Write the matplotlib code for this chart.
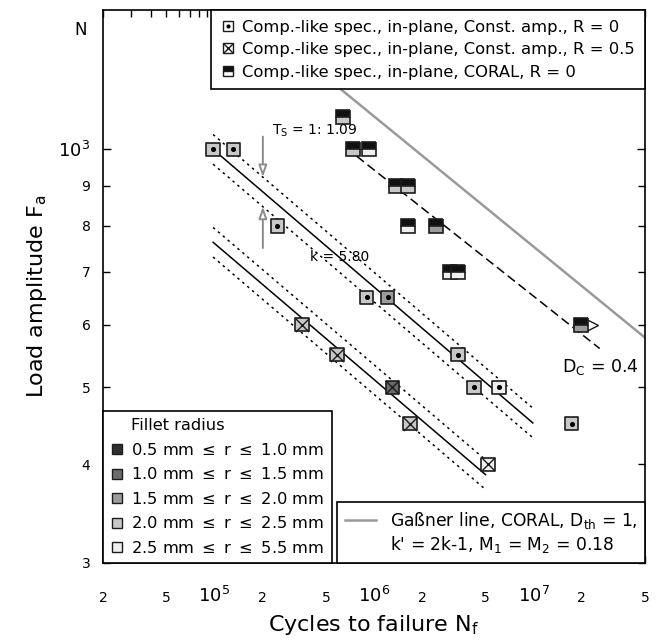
import matplotlib.pyplot as plt
import numpy as np
from matplotlib.lines import Line2D
from matplotlib.ticker import LogLocator, NullFormatter, FuncFormatter

plt.rcParams['font.family'] = 'DejaVu Sans'
plt.rcParams['mathtext.fontset'] = 'dejavusans'

# fillet radius classes -> fill colour
radius_labels = [r'0.5 mm $\leq$ r $\leq$ 1.0 mm',
                 r'1.0 mm $\leq$ r $\leq$ 1.5 mm',
                 r'1.5 mm $\leq$ r $\leq$ 2.0 mm',
                 r'2.0 mm $\leq$ r $\leq$ 2.5 mm',
                 r'2.5 mm $\leq$ r $\leq$ 5.5 mm']
radius_colors = ['#2e2e2e', '#6b6b6b', '#9c9c9c', '#c8c8c8', '#efefef']

# const. amp., R = 0  (square with dot)
n_r0 = [9.8e4, 1.31e5, 2.47e5, 9.0e5, 1.22e6, 3.36e6, 4.24e6, 6.08e6, 1.74e7]
f_r0 = [1000, 1000, 800, 650, 650, 550, 500, 500, 450]
cls_r0 = [3, 3, 3, 3, 2, 3, 3, 4, 3]

# const. amp., R = 0.5  (square with cross)
n_r05 = [3.54e5, 5.86e5, 1.30e6, 1.68e6, 5.19e6]
f_r05 = [600, 550, 500, 450, 400]
cls_r05 = [3, 3, 1, 3, 4]

# CORAL, R = 0  (half filled square)
n_coral = [6.4e5, 7.4e5, 9.3e5, 1.37e6, 1.63e6, 1.63e6, 2.45e6, 3.0e6, 3.36e6, 1.99e7]
f_coral = [1100, 1000, 1000, 900, 900, 800, 800, 700, 700, 600]
cls_coral = [3, 3, 4, 3, 3, 4, 2, 4, 4, 2]
runout_coral = [False, False, False, False, False, False, False, False, False, True]

# fitted S-N lines, k = 5.80, scatter T_S = 1:1.09
k_fit = 5.80
t_s = 1.09
n_fit_r0 = [9.8e4, 9.9e6]
f_fit_r0 = [1000, 451]
n_fit_r05 = [9.8e4, 5.0e6]
f_fit_r05 = [763, 388]

# damage sum D_C = 0.4 line and Gassner line
n_dc = [7.8e5, 2.6e7]
f_dc = [980, 560]
n_gassner = [4.0e5, 5.0e7]
f_gassner = [1280, 578]

fig = plt.figure(figsize=(6.59, 6.44), dpi=100)
ax = fig.add_axes([103/659, 1-563/644, 542/659, 553/644])
ax.set_xscale('log')
ax.set_yscale('log')
ax.set_xlim(2e4, 5e7)
ax.set_ylim(300, 1500)

ax.plot(n_gassner, f_gassner, color='#9a9a9a', lw=1.8, zorder=1)
ax.plot(n_dc, f_dc, color='k', lw=1.1, dashes=(6, 3), zorder=1)

band = np.sqrt(t_s)
for n, f in [(n_fit_r0, f_fit_r0), (n_fit_r05, f_fit_r05)]:
    f = np.array(f)
    ax.plot(n, f, color='k', lw=1.1, zorder=1)
    ax.plot(n, f * band, color='k', lw=1.1, dashes=(1.6, 2.6), zorder=1)
    ax.plot(n, f / band, color='k', lw=1.1, dashes=(1.6, 2.6), zorder=1)

ms = 9.5
edge = '#1c1c1c'
# R = 0
ax.scatter(n_r0, f_r0, marker='s', s=ms**2, c=[radius_colors[c] for c in cls_r0],
           edgecolors=edge, linewidths=1.2, zorder=3)
ax.scatter(n_r0, f_r0, marker='o', s=7, c='k', zorder=4)
# R = 0.5
ax.scatter(n_r05, f_r05, marker='s', s=ms**2, c=[radius_colors[c] for c in cls_r05],
           edgecolors=edge, linewidths=1.2, zorder=3)
ax.scatter(n_r05, f_r05, marker='x', s=ms**2, c=edge, linewidths=1.0, zorder=4)
# CORAL
for n, f, c, ro in zip(n_coral, f_coral, cls_coral, runout_coral):
    if ro:
        ax.plot(n * 1.17, f, marker='>', ms=9, mfc='white', mec=edge, mew=1.0, ls='none', zorder=2)
    ax.plot(n, f, marker='s', ms=ms, fillstyle='top', mfc='#111111', mfcalt=radius_colors[c],
            mec=edge, mew=1.2, ls='none', zorder=3)

# annotations
ax.text(2.29e5, 1054, r'T$_{\rm S}$ = 1: 1.09', fontsize=10, va='center', ha='left')
n_arrow = 2.01e5
f_mid = f_fit_r0[0] * (n_arrow / n_fit_r0[0]) ** (-1 / k_fit)
arrow_kw = dict(arrowstyle='-|>,head_length=0.7,head_width=0.25', fc='white', ec='#8c8c8c',
                lw=1.4, shrinkA=0, shrinkB=0)
ax.annotate('', xy=(n_arrow, f_mid * band), xytext=(n_arrow, f_mid * band * 1.125), arrowprops=arrow_kw)
ax.annotate('', xy=(n_arrow, f_mid / band), xytext=(n_arrow, f_mid / band / 1.128), arrowprops=arrow_kw)
ax.text(6.12e5, 730, 'k = 5.80', fontsize=10, va='center', ha='center')
ax.text(1.51e7, 530, r'D$_{\rm C}$ = 0.4', fontsize=12.5, va='center', ha='left')

# axes styling
for sp in ax.spines.values():
    sp.set_linewidth(1.2)
ax.xaxis.set_major_locator(LogLocator(base=10))
ax.xaxis.set_minor_locator(LogLocator(base=10, subs=np.arange(2, 10)))
ax.xaxis.set_major_formatter(NullFormatter())
ax.xaxis.set_minor_formatter(NullFormatter())
ax.yaxis.set_minor_locator(LogLocator(base=10, subs=np.arange(2, 10)))
ax.yaxis.set_major_formatter(FuncFormatter(lambda v, p: r'$10^{%d}$' % round(np.log10(v))))
ax.yaxis.set_minor_formatter(FuncFormatter(lambda v, p: '%d' % round(v / 100) if v < 1000 else ''))
ax.tick_params(which='both', direction='in', top=True, right=True, width=1.0)
ax.tick_params(which='major', length=6, labelsize=13, pad=9)
ax.tick_params(which='minor', length=5, labelsize=10, pad=9)

xt = ax.get_xaxis_transform()
for v in [1e5, 1e6, 1e7]:
    ax.text(v, -0.07, r'$10^{%d}$' % round(np.log10(v)), transform=xt, ha='center', va='baseline', fontsize=13)
for v in [2e4, 5e4, 2e5, 5e5, 2e6, 5e6, 2e7, 5e7]:
    ax.text(v, -0.07, '%d' % round(v / 10 ** np.floor(np.log10(v))), transform=xt,
            ha='center', va='baseline', fontsize=10)

ax.text(-0.042, 0.964, 'N', transform=ax.transAxes, ha='center', va='center', fontsize=12)
ax.set_xlabel(r'Cycles to failure N$_{\rm f}$', fontsize=16)
ax.set_ylabel(r'Load amplitude F$_{\rm a}$', fontsize=16)
ax.xaxis.set_label_coords(0.5, -0.09)
ax.yaxis.set_label_coords(-0.1, 0.483)

# legends
sq = dict(marker='s', ls='none', ms=7, mec=edge, mew=1.0)
h_r0 = (Line2D([], [], mfc='white', **sq), Line2D([], [], marker='o', ls='none', color='k', ms=2))
h_r05 = (Line2D([], [], mfc='white', **sq), Line2D([], [], marker='x', ls='none', color=edge, ms=7, mew=1.0))
h_coral = Line2D([], [], fillstyle='top', mfc='#111111', mfcalt='white', **sq)
leg1 = ax.legend([h_r0, h_r05, h_coral],
                 ['Comp.-like spec., in-plane, Const. amp., R = 0',
                  'Comp.-like spec., in-plane, Const. amp., R = 0.5',
                  'Comp.-like spec., in-plane, CORAL, R = 0'],
                 loc='upper right', fontsize=11.8, fancybox=False, edgecolor='k', framealpha=1,
                 borderaxespad=0, handlelength=0.8, handletextpad=0.5, labelspacing=0.45,
                 borderpad=0.6)
leg1.get_frame().set_linewidth(1.2)
ax.add_artist(leg1)

h_fillet = [Line2D([], [], ls='none')] + [Line2D([], [], mfc=c, **sq) for c in radius_colors]
leg2 = ax.legend(h_fillet, ['Fillet radius'] + radius_labels, loc='lower left',
                 fontsize=11.7, fancybox=False, edgecolor='k', framealpha=1, borderaxespad=0,
                 handlelength=0.8, handletextpad=0.5, labelspacing=0.52, borderpad=0.45)
leg2.get_frame().set_linewidth(1.2)
ax.add_artist(leg2)

h_gassner = [Line2D([], [], color='#9a9a9a', lw=1.8), Line2D([], [], ls='none')]
leg3 = ax.legend(h_gassner, [r'Gaßner line, CORAL, D$_{\rm th}$ = 1,',
                             r"k' = 2k-1, M$_1$ = M$_2$ = 0.18"],
                 loc='lower right', fontsize=12.3, fancybox=False, edgecolor='k', framealpha=1,
                 borderaxespad=0, handlelength=1.8, handletextpad=0.8, labelspacing=0.2,
                 borderpad=0.45)
leg3.get_frame().set_linewidth(1.2)

fig.savefig('out.png', dpi=100)
